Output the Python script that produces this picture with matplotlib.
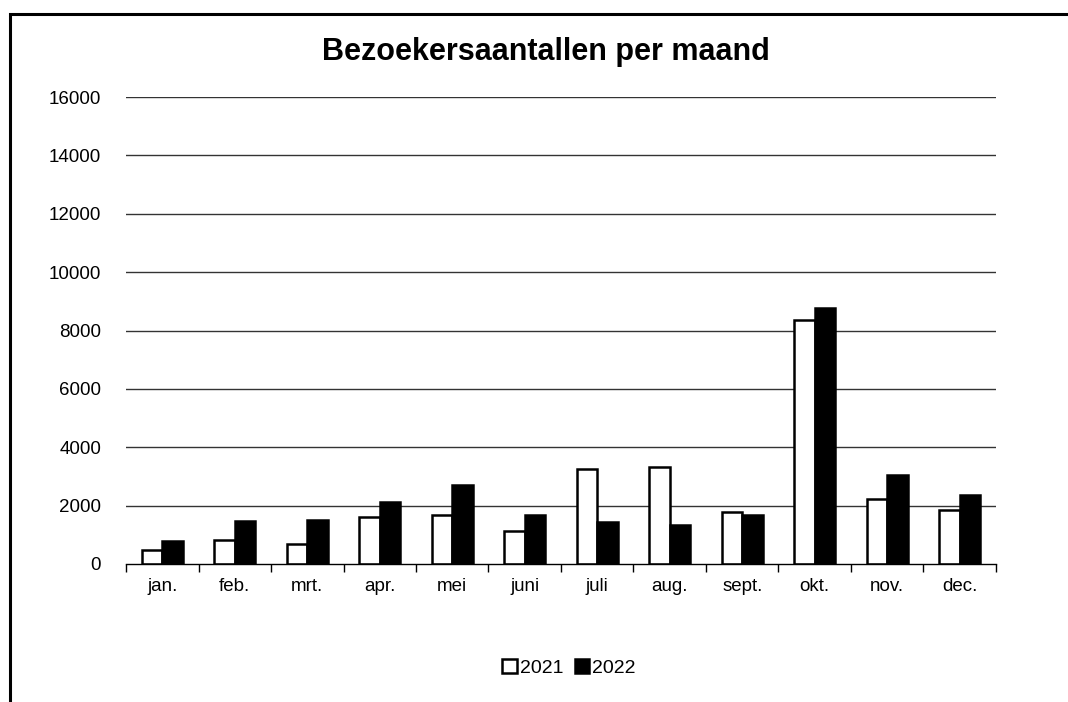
import matplotlib.pyplot as plt
import numpy as np
from matplotlib.patches import Rectangle

plt.rcParams['font.family'] = ['Liberation Sans', 'DejaVu Sans']

months = ['jan.', 'feb.', 'mrt.', 'apr.', 'mei', 'juni', 'juli', 'aug.', 'sept.', 'okt.', 'nov.', 'dec.']
visitors_2021 = [470, 830, 690, 1595, 1675, 1145, 3255, 3310, 1775, 8365, 2210, 1855]
visitors_2022 = [800, 1470, 1515, 2130, 2720, 1690, 1445, 1340, 1695, 8785, 3050, 2355]
yticks = [0, 2000, 4000, 6000, 8000, 10000, 12000, 14000, 16000]

fig = plt.figure(figsize=(10.68, 7.02), dpi=100)
ax = fig.add_axes([126/1068, 1 - 564/702, (996-126)/1068, (564-97)/702])

x = np.arange(len(months))
w = 0.28
ax.bar(x - w/2, visitors_2021, width=w, color='white', edgecolor='black', linewidth=1.8, label='2021', zorder=3)
ax.bar(x + w/2, visitors_2022, width=w, color='black', edgecolor='black', linewidth=1.8, label='2022', zorder=3)

ax.set_xlim(-0.5, len(months) - 0.5)
ax.set_ylim(0, 16000)
ax.set_yticks(yticks)
ax.set_yticklabels([str(t) for t in yticks], fontsize=13.5)
ax.tick_params(axis='y', length=0, pad=18)
for t in yticks[1:]:
    ax.axhline(t, color='#333333', linewidth=1, zorder=1)

ax.set_xticks(x)
ax.set_xticklabels(months, fontsize=13.5)
ax.tick_params(axis='x', length=0, pad=10)
ax.set_xticks(np.arange(-0.5, len(months)), minor=True)
ax.tick_params(axis='x', which='minor', length=6, width=1, color='black', direction='out')

for s in ['top', 'right', 'left']:
    ax.spines[s].set_visible(False)
ax.spines['bottom'].set_linewidth(1)
ax.spines['bottom'].set_zorder(4)

fig.text(546/1068, 1 - 52/702, 'Bezoekersaantallen per maand', ha='center', va='center',
         fontsize=22, fontweight='bold')

fig.legend(loc='center', bbox_to_anchor=(569/1068, 1 - 668/702), ncol=2, frameon=False,
           fontsize=14, handlelength=0.75, handleheight=0.75, handletextpad=0.15, columnspacing=0.6)

# outer frame
fig.patches.append(Rectangle((10/1068, -0.05), 1.1, 1 - 14/702 + 0.05, transform=fig.transFigure,
                             fill=False, edgecolor='black', linewidth=2.2))

fig.savefig('out.png', dpi=100)
